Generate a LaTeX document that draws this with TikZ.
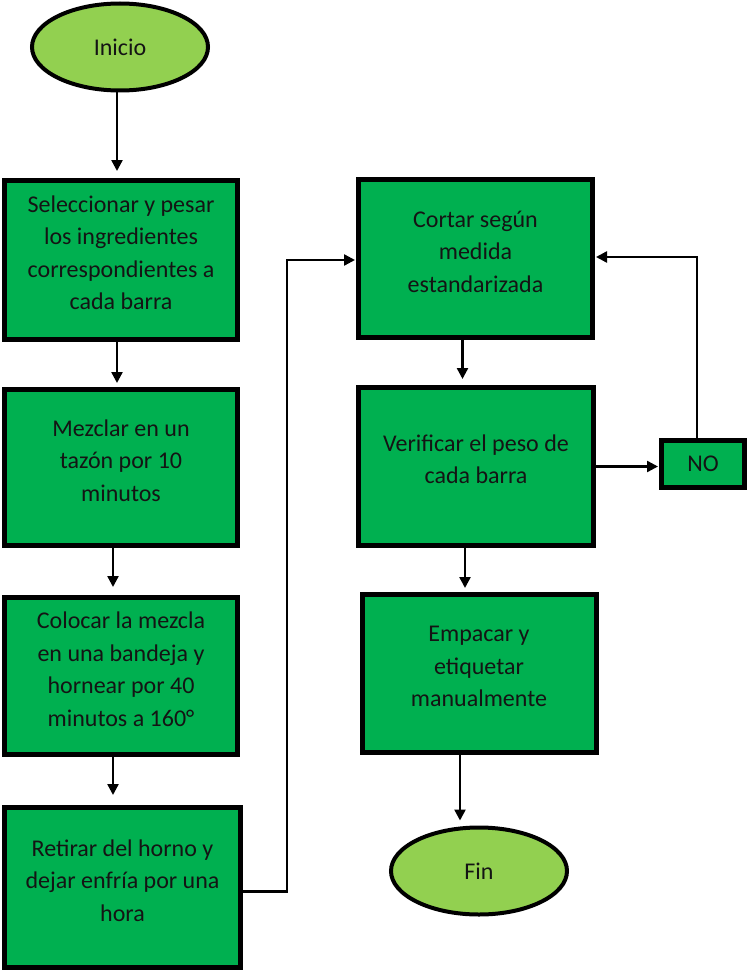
\documentclass[tikz,border=0pt]{standalone}
\usepackage{fontspec}
\setmainfont{Carlito}
\usetikzlibrary{arrows.meta,shapes.geometric}

\definecolor{stepgreen}{HTML}{00B050}
\definecolor{endgreen}{HTML}{92D050}
\definecolor{inkdark}{HTML}{141414}

\tikzset{
  stepbox/.style={draw=black, line width=5pt, fill=stepgreen, rectangle,
    inner sep=0pt},
  terminal/.style={draw=black, line width=4pt, fill=endgreen, ellipse,
    inner sep=0pt, minimum width=176pt, minimum height=87pt,
    font=\fontsize{24pt}{32pt}\selectfont, text=inkdark},
  steptext/.style={align=center, text=inkdark,
    font=\fontsize{24pt}{32.5pt}\selectfont},
  arr/.style={line width=2.4pt, -{Triangle[length=11pt,width=11pt]}},
  link/.style={line width=2.4pt}
}

\begin{document}
\begin{tikzpicture}[x=1pt,y=-1pt]
\useasboundingbox (0,0) rectangle (747,971);

% start / end
\node[terminal] (inicio) at (120,47) {Inicio};
\node[terminal] (fin) at (479,871) {Fin};

% left column
\node[stepbox, minimum width=233pt, minimum height=159pt] (b1) at (121,260) {};
\node[steptext] (t1) at ([yshift=7pt]b1.center)
  {Seleccionar y pesar\\los ingredientes\\correspondientes a\\cada barra};

\node[stepbox, minimum width=233pt, minimum height=156pt] (b2) at (121,467.5) {};
\node[steptext] (t2) at ([yshift=7pt]b2.center)
  {Mezclar en un\\tazón por 10\\minutos};

\node[stepbox, minimum width=233pt, minimum height=157pt] (b3) at (121,676) {};
\node[steptext] (t3) at ([yshift=7pt]b3.center)
  {Colocar la mezcla\\en una bandeja y\\hornear por 40\\minutos a 160°};

\node[stepbox, minimum width=236pt, minimum height=160pt] (b4) at (122.5,887.5) {};
\node[steptext] (t4) at ([yshift=7pt]b4.center)
  {Retirar del horno y\\dejar enfría por una\\hora};

% right column
\node[stepbox, minimum width=234pt, minimum height=158pt] (b5) at (475.5,258.5) {};
\node[steptext] (t5) at ([yshift=7pt]b5.center)
  {Cortar según\\medida\\estandarizada};

\node[stepbox, minimum width=235pt, minimum height=158pt] (b6) at (476,466.5) {};
\node[steptext] (t6) at ([yshift=7pt]b6.center)
  {Verificar el peso de\\cada barra};

\node[stepbox, minimum width=234pt, minimum height=158pt] (b7) at (479,673.5) {};
\node[steptext] (t7) at ([yshift=7pt]b7.center)
  {Empacar y\\etiquetar\\manualmente};

\node[stepbox, minimum width=83pt, minimum height=47pt, steptext] (no) at (703,464) {NO};

% flow connectors
\coordinate (j1) at (287,260);
\draw[arr, shorten >=7pt] ([xshift=-3pt]inicio.south) -- ([xshift=-4pt]b1.north);
\draw[arr, shorten >=4pt] ([xshift=-4pt]b1.south) -- ([xshift=-4pt]b2.north);
\draw[arr, shorten >=8pt] ([xshift=-8pt]b2.south) -- ([xshift=-8pt]b3.north);
\draw[arr, shorten >=10pt] ([xshift=-8pt]b3.south) -- ([xshift=-9.5pt]b4.north);
\draw[arr, shorten >=1pt] ([yshift=-4pt]b4.east) -| (j1) -- (b5.west |- j1);

\draw[arr, shorten >=6pt] ([xshift=-13pt]b5.south) -- ([xshift=-13.5pt]b6.north);
\draw[arr, shorten >=1pt] (b6.east) -- (b6.east -| no.west);
\draw[arr, shorten >=4pt] ([xshift=-11pt]b6.south) -- ([xshift=-14pt]b7.north);
\draw[arr, shorten >=1pt] ([xshift=-6pt]no.north) |- ([yshift=1.5pt]b5.east);
\draw[arr, shorten >=5pt] ([xshift=-19pt]b7.south) -- ([xshift=-19pt]b7.south |- fin.north);
\end{tikzpicture}
\end{document}
